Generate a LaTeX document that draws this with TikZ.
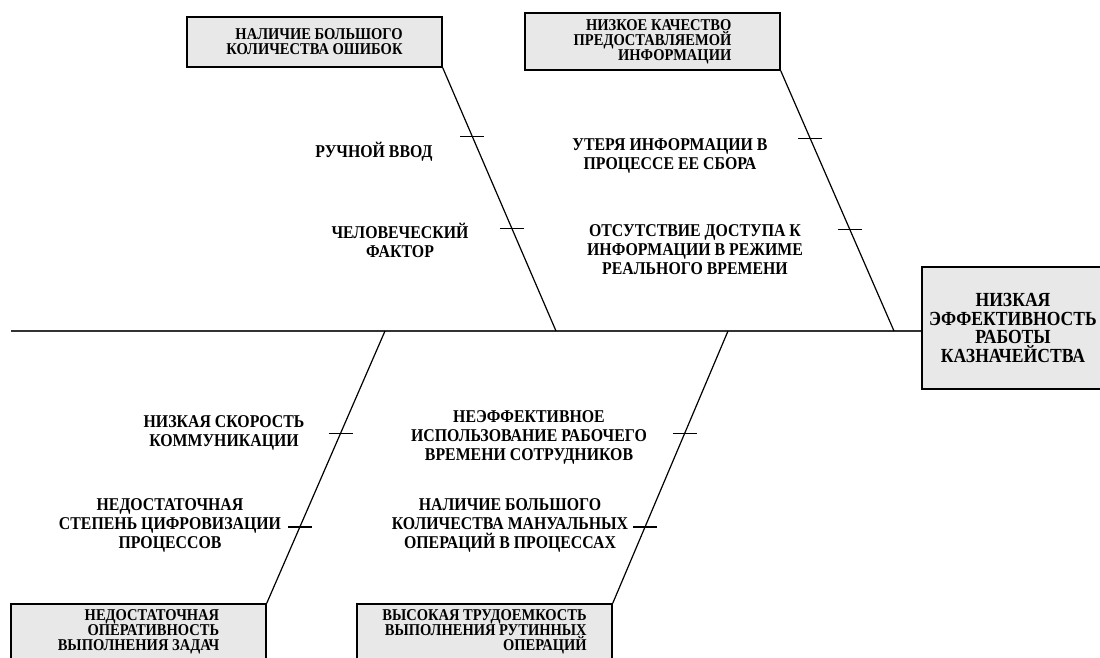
\documentclass[tikz,border=0pt]{standalone}
\usepackage{fontspec}
\setmainfont{Liberation Serif}
\newfontfamily\tallfont[FakeStretch=0.88]{Liberation Serif}
\usetikzlibrary{calc}

\begin{document}
\begin{tikzpicture}[x=1pt,y=-1pt]
\tikzstyle{box}=[rectangle, align=right, draw=black, line width=1.4pt, fill=black!9, minimum width=255pt, inner sep=2pt, font=\tallfont\fontsize{16.5}{15}\selectfont\bfseries]
\tikzstyle{head}=[rectangle, align=center, draw=black, line width=1.4pt, fill=black!9, minimum width=182pt, minimum height=122pt, font=\tallfont\fontsize{20}{18.5}\selectfont\bfseries]
\tikzstyle{cause}=[align=center, font=\tallfont\fontsize{18}{19}\selectfont\bfseries]
\tikzstyle{bone}=[line width=1.2pt]
\useasboundingbox (0,0) rectangle (1100,657);
\node[box, minimum height=50pt] (err) at (314.5,42) {НАЛИЧИЕ БОЛЬШОГО\\КОЛИЧЕСТВА ОШИБОК};
\node[box, minimum height=57pt] (qual) at (652.5,41.5) {НИЗКОЕ КАЧЕСТВО\\ПРЕДОСТАВЛЯЕМОЙ\\ИНФОРМАЦИИ};
\node[box, minimum height=56pt] (oper) at (138.5,632) {НЕДОСТАТОЧНАЯ\\ОПЕРАТИВНОСТЬ\\ВЫПОЛНЕНИЯ ЗАДАЧ};
\node[box, minimum height=56pt] (rout) at (484.5,632) {ВЫСОКАЯ ТРУДОЕМКОСТЬ\\ВЫПОЛНЕНИЯ РУТИННЫХ\\ОПЕРАЦИЙ};
\node[head] (eff) at (1013,328) {НИЗКАЯ\\\makebox[0pt]{ЭФФЕКТИВНОСТЬ}\\РАБОТЫ\\КАЗНАЧЕЙСТВА};
\coordinate (tail) at (11,331);
\coordinate (j1) at (556,331);
\coordinate (j2) at (894,331);
\coordinate (j3) at (385,331);
\coordinate (j4) at (728,331);
\draw[line width=1.7pt, black!80] (tail) -- (tail -| eff.west);
\draw[bone] (err.south east) -- (j1);
\draw[bone] (qual.south east) -- (j2);
\draw[bone] (oper.north east) -- (j3);
\draw[bone] (rout.north east) -- (j4);
\foreach \a/\b in {err/j1, qual/j2}
  \foreach \p in {0.26,0.61}
    \draw[bone] ($(\a.south east)!\p!(\b)$) ++(-12,0) -- ++(24,0);
\foreach \a/\b in {oper/j3, rout/j4}
  \foreach \p in {0.28,0.625}
    \draw[bone] ($(\a.north east)!\p!(\b)$) ++(-12,0) -- ++(24,0);
\node[cause] (manual) at (374,152) {РУЧНОЙ ВВОД};
\node[cause] (human) at (400,240) {ЧЕЛОВЕЧЕСКИЙ\\ФАКТОР};
\node[cause] (loss) at (670,156) {УТЕРЯ ИНФОРМАЦИИ В\\ПРОЦЕССЕ ЕЕ СБОРА};
\node[cause] (access) at (695,250) {ОТСУТСТВИЕ ДОСТУПА К\\ИНФОРМАЦИИ В РЕЖИМЕ\\РЕАЛЬНОГО ВРЕМЕНИ};
\node[cause] (speed) at (224,433) {НИЗКАЯ СКОРОСТЬ\\КОММУНИКАЦИИ};
\node[cause] (digit) at (170,525) {НЕДОСТАТОЧНАЯ\\СТЕПЕНЬ ЦИФРОВИЗАЦИИ\\ПРОЦЕССОВ};
\node[cause] (worktime) at (529,437) {НЕЭФФЕКТИВНОЕ\\ИСПОЛЬЗОВАНИЕ РАБОЧЕГО\\ВРЕМЕНИ СОТРУДНИКОВ};
\node[cause] (manops) at (510,525) {НАЛИЧИЕ БОЛЬШОГО\\КОЛИЧЕСТВА МАНУАЛЬНЫХ\\ОПЕРАЦИЙ В ПРОЦЕССАХ};
\end{tikzpicture}
\end{document}
